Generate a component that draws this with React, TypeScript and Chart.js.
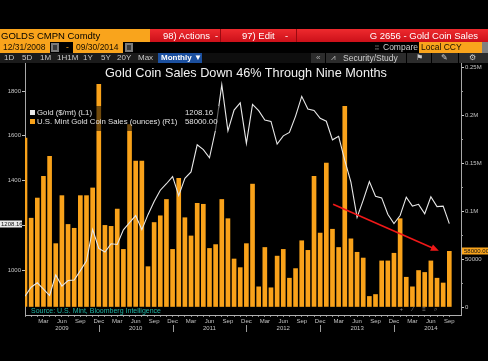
import React, { useEffect, useRef } from "react";
import { Chart, registerables } from "chart.js";

Chart.register(...registerables);

// ---------- DATA ----------
const categories = [
  "Dec 2008",
  "Jan 2009", "Feb 2009", "Mar 2009", "Apr 2009", "May 2009", "Jun 2009", "Jul 2009", "Aug 2009", "Sep 2009", "Oct 2009", "Nov 2009", "Dec 2009",
  "Jan 2010", "Feb 2010", "Mar 2010", "Apr 2010", "May 2010", "Jun 2010", "Jul 2010", "Aug 2010", "Sep 2010", "Oct 2010", "Nov 2010", "Dec 2010",
  "Jan 2011", "Feb 2011", "Mar 2011", "Apr 2011", "May 2011", "Jun 2011", "Jul 2011", "Aug 2011", "Sep 2011", "Oct 2011", "Nov 2011", "Dec 2011",
  "Jan 2012", "Feb 2012", "Mar 2012", "Apr 2012", "May 2012", "Jun 2012", "Jul 2012", "Aug 2012", "Sep 2012", "Oct 2012", "Nov 2012", "Dec 2012",
  "Jan 2013", "Feb 2013", "Mar 2013", "Apr 2013", "May 2013", "Jun 2013", "Jul 2013", "Aug 2013", "Sep 2013", "Oct 2013", "Nov 2013", "Dec 2013",
  "Jan 2014", "Feb 2014", "Mar 2014", "Apr 2014", "May 2014", "Jun 2014", "Jul 2014", "Aug 2014", "Sep 2014",
];

// Gold spot ($), left axis
const goldPrice = [
  884,
  924, 944, 916, 887, 979, 929, 954, 956, 998, 1042, 1182, 1097,
  1081, 1118, 1115, 1180, 1212, 1244, 1181, 1248, 1307, 1357, 1386, 1418,
  1333, 1410, 1439, 1560, 1538, 1502, 1628, 1828, 1622, 1715, 1747, 1566,
  1740, 1712, 1670, 1664, 1563, 1600, 1615, 1688, 1776, 1720, 1713, 1678,
  1665, 1582, 1598, 1490, 1393, 1236, 1313, 1396, 1330, 1323, 1250, 1208,
  1244, 1326, 1286, 1294, 1252, 1328, 1284, 1286, 1208.16,
];

// U.S. Mint gold coin sales (ounces), right axis
const coinSales = [
  176000,
  92500, 113500, 136000, 157000, 66000, 116000, 86000, 82000, 116000, 116000, 124000, 232000,
  85000, 84000, 102000, 60000, 190000, 152000, 152000, 42000, 88000, 95000, 112000, 60000,
  134000, 93000, 74000, 108000, 107000, 61000, 65000, 112000, 92000, 50000, 41000, 66000,
  128000, 21000, 62000, 20000, 53000, 60000, 30000, 40000, 69000, 59000, 136000, 77000,
  150000, 81000, 62000, 209000, 71000, 57000, 51000, 11000, 13000, 48000, 48000, 56000,
  92000, 31000, 21000, 38000, 36000, 48000, 30000, 25000, 58000,
];

const leftTicks = [1000, 1200, 1400, 1600, 1800];
const rightTicks = [0, 50000, 100000, 150000, 200000, 250000];
const rightTickLabels = ["0", "50000", "0.1M", "0.15M", "0.2M", "0.25M"];
const rightMinorTicks = [25000, 75000, 125000, 175000, 225000];
const labeledMonths = ["Mar", "Jun", "Sep", "Dec"];
const yearLabelMonth = "Jun";
const goldLabel = "Gold ($/mt) (L1)";
const salesLabel = "U.S. Mint Gold Coin Sales (ounces) (R1)";
const goldLast = "1208.16";
const salesLast = "58000.00";
// trend arrow, in (month index, ounces)
const trendFrom = [50.1, 107000];
const trendTo = [67.3, 58500];

const F = '"Liberation Sans", Arial, Helvetica, sans-serif';
const ORANGE = "#f9a41c";
const BAR = "#f9a21a";

const overlayPlugin = {
  id: "overlay",
  afterDraw(chart: any) {
    const { ctx } = chart;
    const x = chart.scales.x;
    const yL = chart.scales.yL;
    const yR = chart.scales.yR;
    ctx.save();
    // minor ticks on right axis
    ctx.strokeStyle = "#a0a0a0";
    ctx.lineWidth = 1;
    rightMinorTicks.forEach((v) => {
      const y = Math.round(yR.getPixelForValue(v)) + 0.5;
      ctx.beginPath();
      ctx.moveTo(yR.left, y);
      ctx.lineTo(yR.left + 2, y);
      ctx.stroke();
    });
    // year separators
    ctx.strokeStyle = "#9a9a9a";
    categories.forEach((c, i) => {
      if (i > 0 && c.startsWith("Dec")) {
        const px = Math.round(x.getPixelForValue(i)) + 0.5;
        ctx.beginPath();
        ctx.moveTo(px, x.top + 10);
        ctx.lineTo(px, x.top + 17);
        ctx.stroke();
      }
    });
    // red trend arrow
    const x1 = x.getPixelForValue(trendFrom[0]);
    const y1 = yR.getPixelForValue(trendFrom[1]);
    const x2 = x.getPixelForValue(trendTo[0]);
    const y2 = yR.getPixelForValue(trendTo[1]);
    const ang = Math.atan2(y2 - y1, x2 - x1);
    ctx.strokeStyle = "#f01818";
    ctx.fillStyle = "#f01818";
    ctx.lineWidth = 1.6;
    ctx.beginPath();
    ctx.moveTo(x1, y1);
    ctx.lineTo(x2 - 5 * Math.cos(ang), y2 - 5 * Math.sin(ang));
    ctx.stroke();
    ctx.beginPath();
    ctx.moveTo(x2, y2);
    ctx.lineTo(x2 - 8 * Math.cos(ang) + 3.5 * Math.sin(ang), y2 - 8 * Math.sin(ang) - 3.5 * Math.cos(ang));
    ctx.lineTo(x2 - 8 * Math.cos(ang) - 3.5 * Math.sin(ang), y2 - 8 * Math.sin(ang) + 3.5 * Math.cos(ang));
    ctx.closePath();
    ctx.fill();
    // last value tags
    ctx.font = `6px ${F}`;
    ctx.textBaseline = "middle";
    const yg = Math.round(yL.getPixelForValue(goldPrice[goldPrice.length - 1]));
    ctx.fillStyle = "#ececec";
    ctx.fillRect(0, yg - 3.5, yL.right - 3, 7);
    ctx.fillStyle = "#111";
    ctx.textAlign = "left";
    ctx.fillText(goldLast, 1, yg);
    const ys = Math.round(yR.getPixelForValue(coinSales[coinSales.length - 1]));
    ctx.fillStyle = ORANGE;
    ctx.fillRect(yR.left + 1, ys - 3.5, 30, 7);
    ctx.fillStyle = "#111";
    ctx.fillText(salesLast, yR.left + 3, ys);
    // small toolbar glyphs
    ctx.fillStyle = "#8a8a8a";
    ctx.font = `6px ${F}`;
    ctx.textAlign = "center";
    const gy = yR.getPixelForValue(0) + 2;
    ["+", "\u2215", "\u2261", "\u2315"].forEach((g, k) => {
      ctx.fillText(g, x.getPixelForValue(61.2 + k * 1.85), gy);
    });
    ctx.restore();
  },
};

function Txt(props: any) {
  const { x, y, h, size = 8.5, color = "#ccc", right, children, weight, extra } = props;
  const st: any = {
    position: "absolute",
    top: y,
    height: h,
    lineHeight: `${h}px`,
    fontFamily: F,
    fontSize: size,
    color,
    whiteSpace: "nowrap",
    fontWeight: weight || "normal",
    ...(extra || {}),
  };
  if (right !== undefined) st.right = right;
  else st.left = x;
  return <div style={st}>{children}</div>;
}

function Rect(props: any) {
  const { x, y, w, h, bg, extra } = props;
  return (
    <div
      style={{ position: "absolute", left: x, top: y, width: w, height: h, background: bg, ...(extra || {}) }}
    />
  );
}

export default function App() {
  const ref = useRef<HTMLCanvasElement>(null);

  useEffect(() => {
    document.body.style.margin = "0";
    document.body.style.background = "#000";
    const canvas = ref.current!;
    const tickFont = { family: F, size: 6, lineHeight: 1.17 };
    const chart = new Chart(canvas, {
      type: "bar",
      data: {
        datasets: [
          {
            type: "line",
            label: goldLabel,
            data: goldPrice.map((v, i) => ({ x: i, y: v })),
            xAxisID: "x",
            yAxisID: "yL",
            borderColor: "#e8e8e8",
            borderWidth: 1.1,
            pointRadius: 0,
            tension: 0,
            order: 1,
          } as any,
          {
            type: "bar",
            label: salesLabel,
            data: coinSales.map((v, i) => ({ x: i, y: v })),
            xAxisID: "x",
            yAxisID: "yR",
            backgroundColor: BAR,
            barThickness: 4,
            order: 2,
          } as any,
        ],
      },
      options: {
        responsive: false,
        animation: false,
        devicePixelRatio: 1,
        layout: { padding: { top: 63, left: 0, right: 0, bottom: 0 } },
        plugins: { legend: { display: false }, tooltip: { enabled: false }, title: { display: false } },
        scales: {
          x: {
            type: "linear",
            position: "bottom",
            min: 0,
            max: 70.9,
            offset: false,
            grid: { drawOnChartArea: false, offset: false, tickLength: 2, color: "#8a8a8a" },
            border: { color: "#b0b0b0", width: 1 },
            afterBuildTicks: (s: any) => {
              s.ticks = categories.map((_, i) => ({ value: i }));
            },
            afterFit: (s: any) => {
              s.height = 46;
            },
            ticks: {
              autoSkip: false,
              maxRotation: 0,
              minRotation: 0,
              padding: 1,
              color: "#c4c4c4",
              font: tickFont,
              callback: (v: any) => {
                const i = Math.round(Number(v));
                if (i <= 0 || i >= categories.length) return "";
                const [m, yr] = categories[i].split(" ");
                if (m === yearLabelMonth) return [m, yr];
                if (labeledMonths.includes(m)) return m;
                return "";
              },
            },
          },
          yL: {
            type: "linear",
            position: "left",
            min: 800,
            max: 1925,
            grid: { drawOnChartArea: false, tickLength: 3, color: "#bdbdbd" },
            border: { color: "#a8a8a8", width: 1 },
            afterBuildTicks: (s: any) => {
              s.ticks = leftTicks.map((v) => ({ value: v }));
            },
            afterFit: (s: any) => {
              s.width = 25;
            },
            ticks: {
              padding: 1,
              color: "#c4c4c4",
              font: tickFont,
              callback: (v: any) => String(v),
            },
          },
          yR: {
            type: "linear",
            position: "right",
            min: -8333,
            max: 254167,
            grid: { drawOnChartArea: false, tickLength: 3, color: "#d0d0d0" },
            border: { color: "#a8a8a8", width: 1 },
            afterBuildTicks: (s: any) => {
              s.ticks = rightTicks.map((v) => ({ value: v }));
            },
            afterFit: (s: any) => {
              s.width = 27;
            },
            ticks: {
              padding: 1,
              color: "#c4c4c4",
              font: tickFont,
              callback: (v: any) => {
                const k = rightTicks.indexOf(Number(v));
                return k >= 0 ? rightTickLabels[k] : "";
              },
            },
          },
        },
      } as any,
      plugins: [overlayPlugin],
    });
    return () => chart.destroy();
  }, []);

  return (
    <div
      style={{
        position: "absolute",
        left: 0,
        top: 0,
        width: 488,
        height: 361,
        background: "#000",
        overflow: "hidden",
        fontFamily: F,
      }}
    >
      <canvas
        ref={ref}
        width={488}
        height={361}
        style={{ position: "absolute", left: 0, top: 0, width: 488, height: 361, display: "block" }}
      />

      {/* Row A */}
      <Rect x={0} y={29} w={150} h={13} bg={ORANGE} />
      <Txt x={1} y={29} h={13} size={9.5} color="#000">GOLDS CMPN Comdty</Txt>
      <Rect x={150} y={29} w={338} h={13} bg="linear-gradient(#ee2a2e,#cc1019)" />
      <Rect x={220} y={29} w={1} h={13} bg="#9a0a10" />
      <Rect x={296} y={29} w={1} h={13} bg="#9a0a10" />
      <Txt x={163} y={29} h={13} size={9.5} color="#fff">98) Actions</Txt>
      <Txt x={215} y={29} h={13} size={9.5} color="#fff">-</Txt>
      <Txt x={242} y={29} h={13} size={9.5} color="#fff">97) Edit</Txt>
      <Txt x={285} y={29} h={13} size={9.5} color="#fff">-</Txt>
      <Txt right={10} y={29} h={13} size={9.5} color="#fff">G 2656 - Gold Coin Sales</Txt>

      {/* Row B */}
      <Rect x={0} y={42} w={50} h={11} bg={ORANGE} />
      <Txt x={3} y={42} h={11} size={8.5} color="#1a1000">12/31/2008</Txt>
      <Rect x={51} y={43} w={8} h={9} bg="#7a7a7a" />
      <Rect x={53} y={45} w={4} h={5} bg="#3a3a3a" />
      <Txt x={66} y={42} h={11} size={8.5} color={ORANGE}>-</Txt>
      <Rect x={73} y={42} w={50} h={11} bg={ORANGE} />
      <Txt x={76} y={42} h={11} size={8.5} color="#1a1000">09/30/2014</Txt>
      <Rect x={125} y={43} w={8} h={9} bg="#7a7a7a" />
      <Rect x={127} y={45} w={4} h={5} bg="#3a3a3a" />
      <Txt x={375} y={42} h={11} size={7} color="#aaa">⁞⁞</Txt>
      <Txt x={383} y={42} h={11} size={8.5} color="#cfcfcf">Compare</Txt>
      <Rect x={419} y={42} w={63} h={11} bg={ORANGE} />
      <Txt x={421} y={42} h={11} size={8.5} color="#1a1000">Local CCY</Txt>
      <Rect x={482} y={42} w={6} h={11} bg="#808080" />

      {/* Row C */}
      <Rect x={0} y={53} w={158} h={10} bg="#1b1b1b" />
      <Txt x={4} y={53} h={10} size={8} color="#c8c8c8">1D</Txt>
      <Txt x={22} y={53} h={10} size={8} color="#c8c8c8">5D</Txt>
      <Txt x={40} y={53} h={10} size={8} color="#c8c8c8">1M</Txt>
      <Txt x={57} y={53} h={10} size={8} color="#c8c8c8">1H1M</Txt>
      <Txt x={83} y={53} h={10} size={8} color="#c8c8c8">1Y</Txt>
      <Txt x={101} y={53} h={10} size={8} color="#c8c8c8">5Y</Txt>
      <Txt x={117} y={53} h={10} size={8} color="#c8c8c8">20Y</Txt>
      <Txt x={138} y={53} h={10} size={8} color="#c8c8c8">Max</Txt>
      <Rect x={158} y={53} w={44} h={10} bg="#1b4f9e" />
      <Txt x={161} y={53} h={10} size={8} color="#fff" weight="bold">Monthly ▼</Txt>
      <Rect x={202} y={53} w={109} h={10} bg="#0e0e0e" />
      <Rect x={311} y={53} w={177} h={10} bg="#2c2c2c" />
      <Rect x={325} y={53} w={1} h={10} bg="#000" />
      <Rect x={406} y={53} w={1} h={10} bg="#000" />
      <Rect x={431} y={53} w={1} h={10} bg="#000" />
      <Rect x={458} y={53} w={1} h={10} bg="#000" />
      <Txt x={316} y={53} h={10} size={8} color="#aaa">«</Txt>
      <Txt x={331} y={53} h={10} size={8} color="#bbb">⩘</Txt>
      <Txt x={343} y={53} h={10} size={8.5} color="#cfcfcf">Security/Study</Txt>
      <Txt x={416} y={53} h={10} size={8} color="#ccc">⚑</Txt>
      <Txt x={441} y={53} h={10} size={8} color="#ccc">✎</Txt>
      <Txt x={469} y={53} h={10} size={8} color="#ccc">⚙</Txt>

      {/* Title */}
      <Txt x={105} y={66} h={14} size={12.7} color="#f2f2f2">Gold Coin Sales Down 46% Through Nine Months</Txt>

      {/* Legend */}
      <Rect x={27} y={106} w={192} h={25} bg="rgba(0,0,0,0.55)" />
      <Rect x={30} y={110} w={5} h={5} bg="#e8e8e8" />
      <Rect x={30} y={119} w={5} h={5} bg={BAR} />
      <Txt x={37} y={108} h={9} size={7.8} color="#e0e0e0">{goldLabel}</Txt>
      <Txt x={37} y={117} h={9} size={7.8} color="#e0e0e0">{salesLabel}</Txt>
      <Txt x={185} y={108} h={9} size={7.8} color="#e0e0e0">{goldLast}</Txt>
      <Txt x={185} y={117} h={9} size={7.8} color="#e0e0e0">{salesLast}</Txt>

      {/* Source */}
      <Txt x={31} y={307} h={8} size={7} color="#1fb3a3">Source: U.S. Mint, Bloomberg Intelligence</Txt>
    </div>
  );
}
